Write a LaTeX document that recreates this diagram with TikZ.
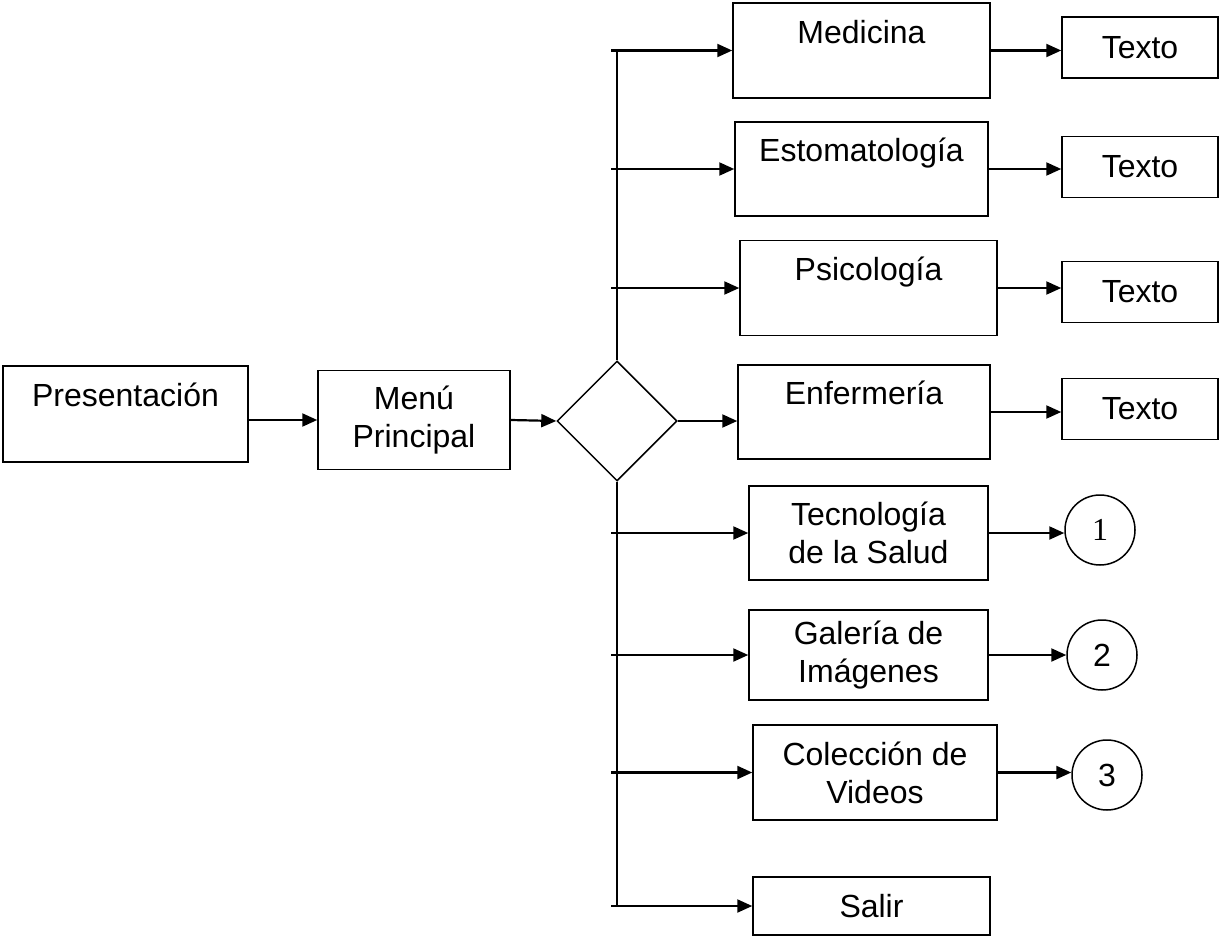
\documentclass[tikz,border=0pt]{standalone}
\usepackage{fontspec}
\setmainfont{Liberation Sans}
\newfontfamily\serifnum{Liberation Serif}
\usetikzlibrary{arrows.meta,shapes.geometric}
\tikzset{
    >={Triangle[length=15pt,width=13pt]},
    caja/.style={
        rectangle,
        draw=black, line width=1.5pt,
        inner sep=0pt,
        align=center,
        font={\fontsize{32pt}{38pt}\selectfont}
    },
    dim/.style 2 args={minimum width=#1pt, minimum height=#2pt},
    decision/.style={
        diamond, aspect=1,
        draw=black, line width=1.5pt,
        minimum width=120pt, minimum height=120pt,
        inner sep=0pt
    },
    conector/.style={
        circle,
        draw=black, line width=1.5pt,
        minimum size=70pt, inner sep=0pt,
        font={\fontsize{32pt}{38pt}\selectfont}
    },
    flecha/.style={->, line width=2.2pt},
    tronco/.style={line width=1.6pt},
}
\begin{document}
\begin{tikzpicture}[x=1pt, y=-1pt]
\useasboundingbox (0,0) rectangle (1221,942);

% entrada
\node [caja, dim={245}{96}] (pres) at (125.5,414) {Presentación\\\mbox{}};
\node [caja, dim={192}{99}] (menu) at (414,420) {Menú\\Principal};
\node [decision] (dec) at (617,421) {};

% especialidades
\foreach \n/\x/\y/\w/\h/\lbl in {med/861.5/50.5/257/95/Medicina,
    esto/861.5/169/253/94/Estomatología, psi/868.5/288/257/95/Psicología,
    enf/864/412/252/94/Enfermería}
  \node [caja, dim={\w}{\h}] (\n) at (\x,\y) {\lbl\\\mbox{}};

\foreach \n/\y in {tx1/47.5, tx2/167, tx3/292, tx4/409}
  \node [caja, dim={156}{61}] (\n) at (1140,\y) {Texto};

\node [caja, dim={239}{94}] (tec) at (868.5,533) {Tecnología\\de la Salud};
\node [caja, dim={239}{90}] (gal) at (868.5,655) {Galería de\\Imágenes};
\node [caja, dim={244}{95}] (col) at (875,772.5) {Colección de\\Videos};
\node [caja, dim={237}{58}] (sal) at (871.5,906) {Salir};

\node [conector] (c1) at (1100,530) {\serifnum 1};
\node [conector] (c2) at (1102,655) {2};
\node [conector] (c3) at (1107,775) {3};

% flechas
\draw [flecha] (pres.east |- menu.west) -- (menu.west);
\draw [flecha] (menu.east) -- (dec.west);
\draw [tronco] (dec.north) -- (dec.north |- med.west);
\draw [tronco] (dec.south) -- (dec.south |- sal.west);

\foreach \n in {med, esto, psi, tec, gal, col, sal}
  \draw [flecha] ([xshift=-6pt]dec.north |- \n.west) -- (\n.west);
\draw [flecha] (dec.east) -- (dec.east -| enf.west);

\foreach \a/\b in {med/tx1, esto/tx2, psi/tx3, enf/tx4, tec/c1, gal/c2, col/c3}
  \draw [flecha] (\a.east) -- (\a.east -| \b.west);

\end{tikzpicture}
\end{document}
